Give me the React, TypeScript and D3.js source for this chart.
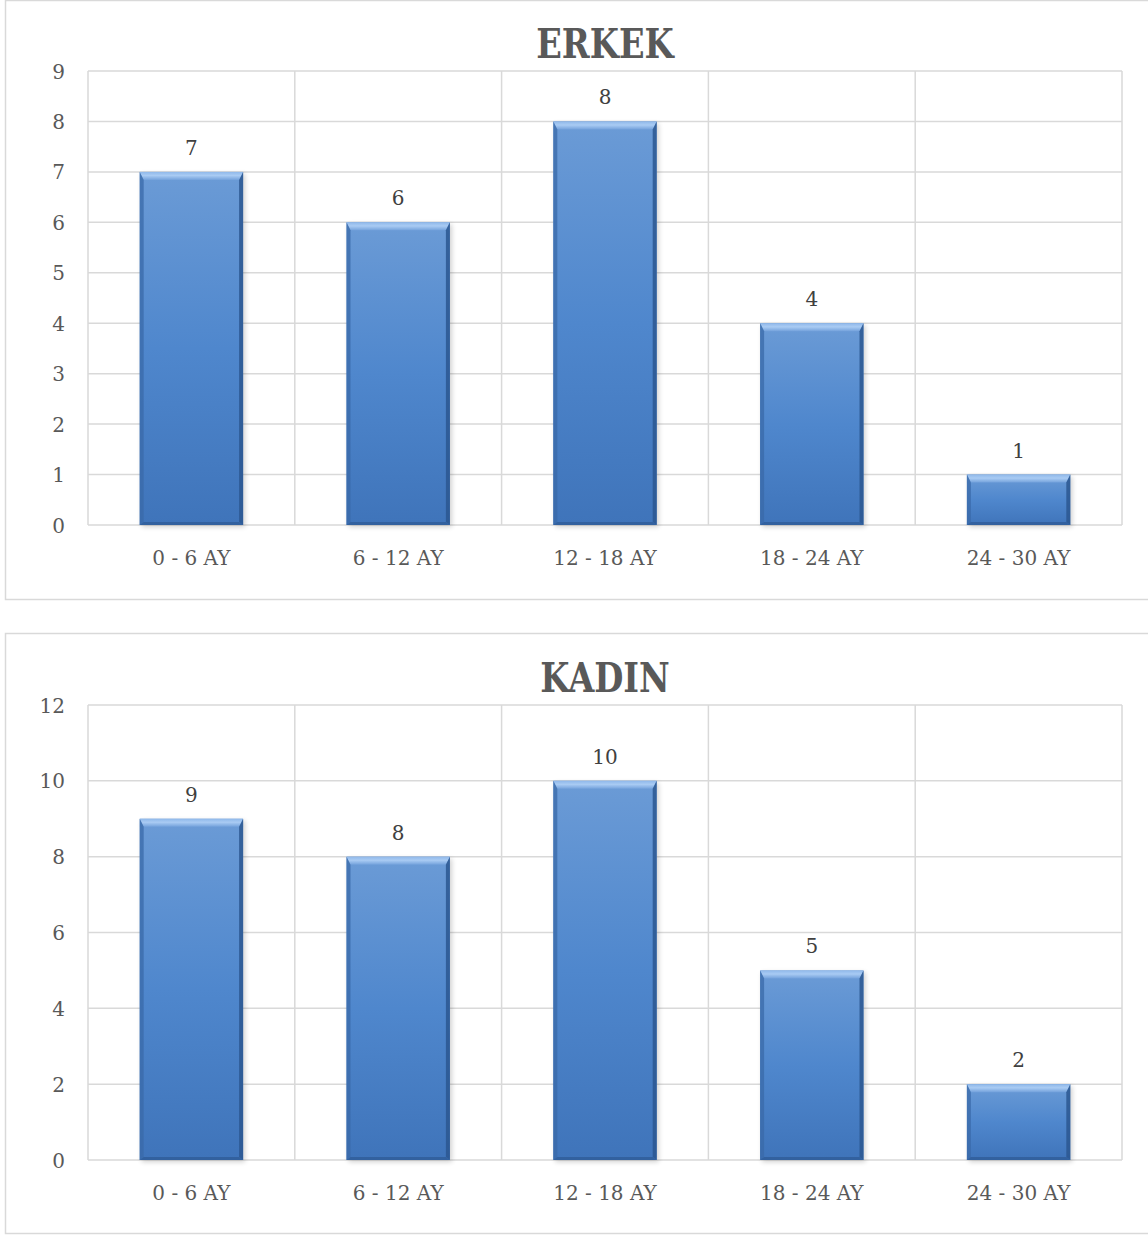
import React, { useEffect } from "react";
import * as d3 from "d3";

const categories = ["0 - 6 AY", "6 - 12 AY", "12 - 18 AY", "18 - 24 AY", "24 - 30 AY"];
const erkekValues = [7, 6, 8, 4, 1];
const kadinValues = [9, 8, 10, 5, 2];
const erkekTicks = [0, 1, 2, 3, 4, 5, 6, 7, 8, 9];
const kadinTicks = [0, 2, 4, 6, 8, 10, 12];

const FONT = "'DejaVu Serif', 'Liberation Serif', serif";
const W = 1148;
const H = 1235;

type PanelProps = {
  title: string;
  values: number[];
  ticks: number[];
  boxTop: number;
  boxBottom: number;
  plotTop: number;
  plotBottom: number;
  titleY: number;
  id: string;
};

function Bar({ x, y, w, h, id }: { x: number; y: number; w: number; h: number; id: string }) {
  const bt = Math.min(8, h / 3); // top bevel depth
  const bs = 4; // side bevel width
  const bb = 3; // bottom bevel depth
  const x2 = x + w;
  const y2 = y + h;
  return (
    <g>
      {/* soft drop shadow */}
      <rect x={x + 2} y={y + 2} width={w} height={h} fill="#000" opacity={0.18} filter={`url(#shadow-${id})`} />
      <rect x={x} y={y} width={w} height={h} fill={`url(#face-${id})`} />
      {/* top bevel */}
      <polygon
        points={`${x},${y} ${x2},${y} ${x2 - bs},${y + bt} ${x + bs},${y + bt}`}
        fill={`url(#top-${id})`}
      />
      {/* left bevel */}
      <polygon
        points={`${x},${y} ${x + bs},${y + bt} ${x + bs},${y2 - bb} ${x},${y2}`}
        fill="#3a69a8"
        opacity={0.75}
      />
      {/* right bevel */}
      <polygon
        points={`${x2},${y} ${x2 - bs},${y + bt} ${x2 - bs},${y2 - bb} ${x2},${y2}`}
        fill="#2c5790"
        opacity={0.85}
      />
      {/* bottom bevel */}
      <polygon
        points={`${x},${y2} ${x + bs},${y2 - bb} ${x2 - bs},${y2 - bb} ${x2},${y2}`}
        fill="#2f5d99"
        opacity={0.8}
      />
    </g>
  );
}

function Panel({ title, values, ticks, boxTop, boxBottom, plotTop, plotBottom, titleY, id }: PanelProps) {
  const plotLeft = 88;
  const plotRight = 1122;
  const x = d3.scaleBand<string>().domain(categories).range([plotLeft, plotRight]).paddingInner(0.5).paddingOuter(0.25);
  const band = d3.scaleBand<string>().domain(categories).range([plotLeft, plotRight]);
  const y = d3.scaleLinear().domain([0, d3.max(ticks) as number]).range([plotBottom, plotTop]);
  const cx = (plotLeft + plotRight) / 2;

  return (
    <g>
      <defs>
        <linearGradient id={`face-${id}`} x1="0" y1="0" x2="0" y2="1">
          <stop offset="0%" stopColor="#6b9bd6" />
          <stop offset="50%" stopColor="#4f87cd" />
          <stop offset="100%" stopColor="#3f74ba" />
        </linearGradient>
        <linearGradient id={`top-${id}`} x1="0" y1="0" x2="0" y2="1">
          <stop offset="0%" stopColor="#8fb8ea" />
          <stop offset="45%" stopColor="#a9cbf3" />
          <stop offset="100%" stopColor="#74a2dc" />
        </linearGradient>
        <filter id={`shadow-${id}`} x="-20%" y="-20%" width="140%" height="140%">
          <feGaussianBlur stdDeviation="2.5" />
        </filter>
      </defs>
      {/* chart frame */}
      <rect x={5.5} y={boxTop + 0.5} width={W + 10} height={boxBottom - boxTop} fill="#fff" stroke="#d9d9d9" strokeWidth={1.5} />
      <text
        transform={`translate(${cx},${titleY}) scale(0.96,1.17)`}
        textAnchor="middle"
        fontFamily={FONT}
        fontWeight="bold"
        fontSize={35}
        fill="#595959"
      >
        {title}
      </text>
      {/* horizontal gridlines */}
      {ticks.map((t) => (
        <line key={`h${t}`} x1={plotLeft} x2={plotRight} y1={y(t)} y2={y(t)} stroke="#d9d9d9" strokeWidth={1.5} />
      ))}
      {/* vertical gridlines at category boundaries */}
      {categories.map((c) => (
        <line key={`v${c}`} x1={band(c)!} x2={band(c)!} y1={plotTop} y2={plotBottom} stroke="#d9d9d9" strokeWidth={1.5} />
      ))}
      <line x1={plotRight} x2={plotRight} y1={plotTop} y2={plotBottom} stroke="#d9d9d9" strokeWidth={1.5} />
      {/* y tick labels */}
      {ticks.map((t) => (
        <text key={`yl${t}`} x={65} y={y(t) + 7.5} textAnchor="end" fontFamily={FONT} fontSize={20} fill="#595959">
          {t}
        </text>
      ))}
      {/* bars */}
      {categories.map((c, i) => (
        <Bar key={`b${c}`} x={x(c)!} y={y(values[i])} w={x.bandwidth()} h={plotBottom - y(values[i])} id={id} />
      ))}
      {/* value labels */}
      {categories.map((c, i) => (
        <text
          key={`vl${c}`}
          x={x(c)! + x.bandwidth() / 2}
          y={y(values[i]) - 17}
          textAnchor="middle"
          fontFamily={FONT}
          fontSize={20}
          fill="#404040"
        >
          {values[i]}
        </text>
      ))}
      {/* category labels */}
      {categories.map((c) => (
        <text
          key={`cl${c}`}
          x={band(c)! + band.bandwidth() / 2}
          y={plotBottom + 40}
          textAnchor="middle"
          fontFamily={FONT}
          fontSize={20}
          fill="#595959"
        >
          {c}
        </text>
      ))}
    </g>
  );
}

export default function App() {
  useEffect(() => {
    document.body.style.margin = "0";
  }, []);
  return (
    <svg width={W} height={H} style={{ display: "block", background: "#fff" }}>
      <Panel title="ERKEK" values={erkekValues} ticks={erkekTicks} boxTop={0} boxBottom={599} plotTop={71} plotBottom={525} titleY={58} id="erkek" />
      <Panel title="KADIN" values={kadinValues} ticks={kadinTicks} boxTop={633} boxBottom={1233} plotTop={705} plotBottom={1160} titleY={692} id="kadin" />
    </svg>
  );
}
